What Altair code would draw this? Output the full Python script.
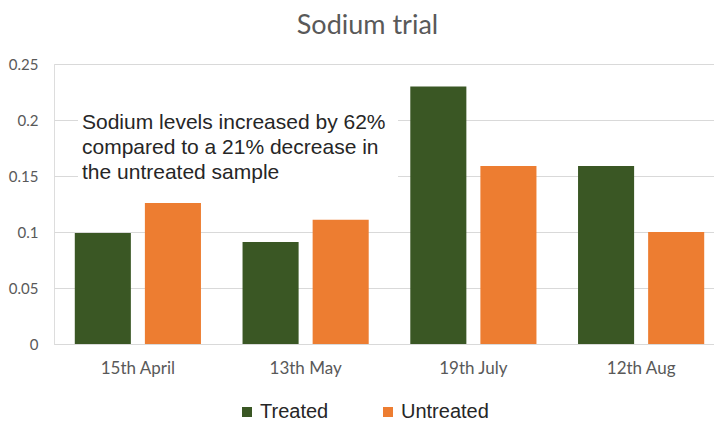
import altair as alt
import pandas as pd

dates = ["15th April", "13th May", "19th July", "12th Aug"]
series = ["Treated", "Untreated"]
treated = [0.099, 0.091, 0.23, 0.159]
untreated = [0.126, 0.111, 0.159, 0.1]
colors = ["#3A5724", "#ED7D31"]
y_ticks = [0, 0.05, 0.1, 0.15, 0.2, 0.25]
note_lines = [
    "Sodium levels increased by 62%",
    "compared to a 21% decrease in",
    "the untreated sample",
]

rows = []
for d, t, u in zip(dates, treated, untreated):
    rows.append({"date": d, "series": "Treated", "value": t})
    rows.append({"date": d, "series": "Untreated", "value": u})
df = pd.DataFrame(rows)

bars = alt.Chart(df).mark_bar().encode(
    x=alt.X(
        "date:N",
        sort=dates,
        scale=alt.Scale(paddingInner=0, paddingOuter=0),
        axis=alt.Axis(
            title=None, labelAngle=0, ticks=False, grid=False,
            domainColor="#d9d9d9", domainWidth=1,
            labelFont="Lato", labelFontSize=17, labelColor="#595959",
            labelPadding=16,
        ),
    ),
    xOffset=alt.XOffset(
        "series:N", sort=series,
        scale=alt.Scale(paddingInner=0.2, paddingOuter=0.2966),
    ),
    y=alt.Y(
        "value:Q",
        scale=alt.Scale(domain=[0, 0.25], nice=False),
        axis=alt.Axis(
            title=None, values=y_ticks, format="~g", domain=False, ticks=False,
            grid=True, gridColor="#d9d9d9", gridWidth=1,
            labelFont="Lato", labelFontSize=15, labelColor="#595959",
            labelPadding=16,
        ),
    ),
    color=alt.Color(
        "series:N",
        scale=alt.Scale(domain=series, range=colors),
        legend=alt.Legend(
            title=None, orient="none", legendX=183, legendY=338,
            direction="horizontal", symbolType="square", symbolSize=100,
            symbolStrokeWidth=0, labelFont="Liberation Sans", labelFontSize=20,
            labelColor="#262626", labelOffset=3, columnPadding=49, padding=0,
            gridAlign="each",
        ),
    ),
)

one = pd.DataFrame({"k": [0]})

note_bg = alt.Chart(one).mark_rect(color="white").encode(
    x=alt.value(24), x2=alt.value(344), y=alt.value(44), y2=alt.value(126)
)

note = alt.Chart(one).mark_text(
    text=note_lines, align="left", baseline="alphabetic",
    font="Liberation Sans", fontSize=21, lineHeight=25, color="#262626",
).encode(x=alt.value(28), y=alt.value(65))

chart = alt.layer(bars, note_bg, note).properties(
    width=671,
    height=280,
    title=alt.Title(
        "Sodium trial", font="Lato", fontSize=27, fontWeight="normal",
        color="#595959", anchor="middle", dx=-22, offset=17,
    ),
    padding={"left": 46, "top": 56, "right": -11, "bottom": 80},
    autosize="none",
).configure_view(stroke=None).configure(background="white")

chart.save("out.html", embed_options={"renderer": "svg", "actions": False})
